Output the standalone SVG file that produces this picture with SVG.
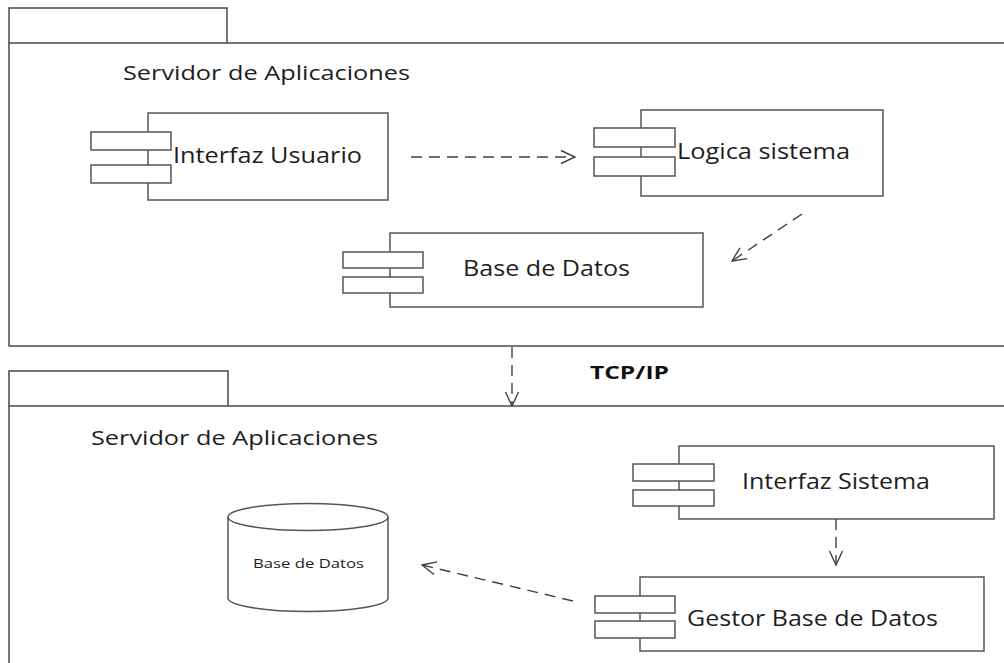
<svg xmlns="http://www.w3.org/2000/svg" width="1004" height="663" viewBox="0 0 1004 663">
  <defs>
    <style>
      .frame { fill: none; stroke: #4a4a4a; stroke-width: 1.5; }
      .box { fill: #ffffff; stroke: #555555; stroke-width: 1.5; }
      .port { fill: #ffffff; stroke: #555555; stroke-width: 1.5; }
      .dep { fill: none; stroke: #404040; stroke-width: 1.4; stroke-dasharray: 11 7; }
      .label { font-family: "Open Sans", "Noto Sans", sans-serif; fill: #1e1e1e; }
      .pkg { font-size: 20px; }
      .comp { font-size: 21px; }
      .small { font-size: 12px; }
      .proto { font-family: "Open Sans", "Noto Sans", sans-serif; font-weight: bold; font-size: 17px; fill: #111111; }
    </style>
    <marker id="open" viewBox="0 0 16 16" refX="15" refY="8" markerWidth="16" markerHeight="16" markerUnits="userSpaceOnUse" orient="auto">
      <path d="M1,1.5 L15,8 L1,14.5" fill="none" stroke="#404040" stroke-width="1.4"/>
    </marker>
  </defs>

  <rect width="1004" height="663" fill="#ffffff"/>

  <!-- upper package -->
  <g id="pkg-top">
    <path class="frame" d="M9,43 V8 H227 V43"/>
    <path class="frame" d="M1010,43 H9 V346 H1010"/>
    <text class="label pkg" x="123" y="80" textLength="287" lengthAdjust="spacingAndGlyphs">Servidor de Aplicaciones</text>
  </g>

  <!-- lower package -->
  <g id="pkg-bottom">
    <path class="frame" d="M9,406 V371 H228 V406"/>
    <path class="frame" d="M1010,406 H9 V670"/>
    <text class="label pkg" x="91" y="445" textLength="287" lengthAdjust="spacingAndGlyphs">Servidor de Aplicaciones</text>
  </g>

  <g id="interfaz-usuario">
    <rect class="box" x="148" y="113" width="240" height="87"/>
    <rect class="port" x="91" y="132" width="80" height="18"/>
    <rect class="port" x="91" y="165" width="80" height="18"/>
    <text class="label comp" x="173" y="163" textLength="189" lengthAdjust="spacingAndGlyphs">Interfaz Usuario</text>
  </g>

  <g id="logica-sistema">
    <rect class="box" x="641" y="110" width="242" height="86"/>
    <rect class="port" x="594" y="128" width="81" height="19"/>
    <rect class="port" x="594" y="157" width="81" height="19"/>
    <text class="label comp" x="677" y="159" textLength="173" lengthAdjust="spacingAndGlyphs">Logica sistema</text>
  </g>

  <g id="base-datos-comp">
    <rect class="box" x="390" y="233" width="313" height="74"/>
    <rect class="port" x="343" y="252" width="80" height="16"/>
    <rect class="port" x="343" y="277" width="80" height="16"/>
    <text class="label comp" x="463" y="276" textLength="167" lengthAdjust="spacingAndGlyphs">Base de Datos</text>
  </g>

  <g id="interfaz-sistema">
    <rect class="box" x="679" y="446" width="315" height="73"/>
    <rect class="port" x="633" y="464" width="81" height="17"/>
    <rect class="port" x="633" y="490" width="81" height="16"/>
    <text class="label comp" x="742" y="489" textLength="188" lengthAdjust="spacingAndGlyphs">Interfaz Sistema</text>
  </g>

  <g id="gestor-base-datos">
    <rect class="box" x="640" y="577" width="344" height="74"/>
    <rect class="port" x="595" y="596" width="80" height="17"/>
    <rect class="port" x="595" y="621" width="80" height="17"/>
    <text class="label comp" x="687" y="626" textLength="251" lengthAdjust="spacingAndGlyphs">Gestor Base de Datos</text>
  </g>

  <g id="base-datos-store">
    <path class="box" d="M228,517 V598 A80,13.5 0 0 0 388,598 V517"/>
    <ellipse class="box" cx="308" cy="517" rx="80" ry="13.5"/>
    <text class="label small" x="253" y="568" textLength="111" lengthAdjust="spacingAndGlyphs">Base de Datos</text>
  </g>

  <!-- dependencies -->
  <g id="connectors">
    <path class="dep" d="M411,157 H575" marker-end="url(#open)"/>
    <path class="dep" d="M802,214 L732,261" marker-end="url(#open)"/>
    <path class="dep" d="M512,347 V406" marker-end="url(#open)"/>
    <path class="dep" d="M836,519 V565" marker-end="url(#open)"/>
    <path class="dep" d="M573,601 L422,565" marker-end="url(#open)"/>
    <text class="proto" x="590" y="379" textLength="79" lengthAdjust="spacingAndGlyphs">TCP/IP</text>
  </g>
</svg>
